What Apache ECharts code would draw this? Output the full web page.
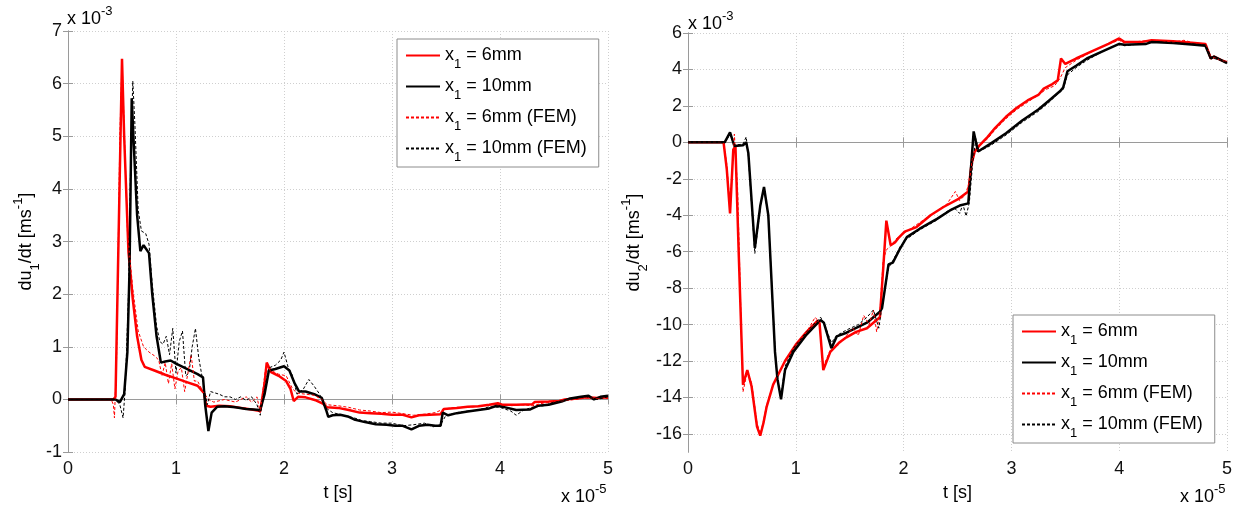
<!DOCTYPE html>
<html>
<head>
<meta charset="utf-8">
<script src="https://cdn.jsdelivr.net/npm/echarts@6/dist/echarts.min.js"></script>
<style>html,body{margin:0;padding:0;background:#fff;}#c{width:1240px;height:508px;}</style>
</head>
<body>
<div id="c"></div>
<script>
// ---- data (t in units of 1e-5 s, values in units of 1e-3 m/s) ----
const X_TICKS = [0, 1, 2, 3, 4, 5];
const LEFT_Y_TICKS = [-1, 0, 1, 2, 3, 4, 5, 6, 7];
const RIGHT_Y_TICKS = [-16, -14, -12, -10, -8, -6, -4, -2, 0, 2, 4, 6];
const NAMES = ['x1 = 6mm', 'x1 = 10mm', 'x1 = 6mm (FEM)', 'x1 = 10mm (FEM)'];

// Left panel: du1/dt
const L_6MM = [[0,0],[0.42,0],[0.44,0.05],[0.5,6.47],[0.52,5.0],[0.56,2.8],[0.6,1.9],[0.64,1.2],[0.68,0.75],[0.71,0.62],[0.8,0.55],[0.9,0.47],[1.0,0.4],[1.1,0.33],[1.2,0.26],[1.26,0.12],[1.28,-0.12],[1.32,-0.14],[1.4,-0.12],[1.5,-0.13],[1.6,-0.16],[1.7,-0.19],[1.78,-0.22],[1.82,0.3],[1.84,0.7],[1.88,0.52],[1.95,0.45],[2.02,0.35],[2.06,0.2],[2.09,-0.03],[2.13,0.05],[2.2,0.04],[2.3,-0.02],[2.36,-0.08],[2.4,-0.15],[2.5,-0.16],[2.6,-0.2],[2.7,-0.25],[2.8,-0.26],[2.9,-0.27],[3.0,-0.29],[3.1,-0.29],[3.18,-0.34],[3.25,-0.3],[3.35,-0.29],[3.45,-0.28],[3.48,-0.18],[3.6,-0.16],[3.7,-0.14],[3.8,-0.13],[3.9,-0.1],[3.98,-0.07],[4.02,-0.1],[4.15,-0.1],[4.3,-0.09],[4.32,-0.05],[4.45,-0.04],[4.55,-0.03],[4.6,0],[4.7,0.02],[4.8,0.04],[4.9,0.03],[5.0,0.04]];
const L_10MM = [[0,0],[0.44,0],[0.48,-0.05],[0.52,0.1],[0.55,0.9],[0.57,2.5],[0.59,5.72],[0.61,4.8],[0.64,3.5],[0.67,2.82],[0.7,2.93],[0.75,2.78],[0.78,2.0],[0.82,1.2],[0.86,0.7],[0.9,0.72],[0.95,0.74],[1.0,0.68],[1.1,0.58],[1.2,0.48],[1.25,0.42],[1.27,-0.1],[1.3,-0.6],[1.33,-0.25],[1.38,-0.14],[1.45,-0.13],[1.55,-0.15],[1.65,-0.18],[1.78,-0.2],[1.82,0.1],[1.86,0.55],[1.92,0.58],[2.0,0.63],[2.05,0.55],[2.1,0.3],[2.14,0.15],[2.2,0.15],[2.28,0.1],[2.35,0.03],[2.39,-0.2],[2.41,-0.33],[2.45,-0.3],[2.52,-0.29],[2.6,-0.33],[2.65,-0.38],[2.75,-0.43],[2.85,-0.47],[2.95,-0.48],[3.03,-0.5],[3.1,-0.5],[3.18,-0.57],[3.25,-0.5],[3.33,-0.48],[3.4,-0.5],[3.45,-0.5],[3.47,-0.25],[3.52,-0.3],[3.6,-0.26],[3.7,-0.23],[3.8,-0.2],[3.9,-0.17],[3.97,-0.12],[4.05,-0.15],[4.15,-0.2],[4.28,-0.19],[4.35,-0.12],[4.45,-0.1],[4.57,-0.04],[4.65,0.02],[4.75,0.05],[4.82,0.07],[4.87,0],[4.93,0.05],[5.0,0.07]];
const L_6MM_FEM = [[0,0],[0.4,0],[0.42,-0.1],[0.43,-0.35],[0.45,0.8],[0.48,5.0],[0.5,6.45],[0.52,5.2],[0.55,3.2],[0.6,2.1],[0.65,1.3],[0.7,1.0],[0.75,0.9],[0.8,0.83],[0.84,0.75],[0.87,0.45],[0.9,0.7],[0.93,0.3],[0.96,0.68],[0.99,0.2],[1.02,0.55],[1.05,0.6],[1.08,0.15],[1.11,0.5],[1.14,0.85],[1.17,0.35],[1.2,0.35],[1.25,0.15],[1.3,0.0],[1.35,-0.05],[1.45,0.0],[1.55,-0.05],[1.65,0.05],[1.7,-0.05],[1.75,0.05],[1.78,-0.25],[1.83,0.6],[1.88,0.55],[1.95,0.48],[2.02,0.45],[2.08,0.2],[2.12,0.12],[2.2,0.1],[2.28,0.08],[2.35,0.0],[2.4,-0.1],[2.5,-0.12],[2.6,-0.15],[2.7,-0.2],[2.8,-0.22],[2.9,-0.25],[3.0,-0.24],[3.1,-0.27],[3.2,-0.3],[3.3,-0.28],[3.4,-0.25],[3.48,-0.18],[3.6,-0.15],[3.7,-0.15],[3.8,-0.13],[3.9,-0.1],[4.0,-0.1],[4.1,-0.12],[4.2,-0.1],[4.3,-0.12],[4.4,-0.07],[4.5,-0.05],[4.6,-0.02],[4.7,0.0],[4.8,0.03],[4.9,0.02],[5.0,0.02]];
const L_10MM_FEM = [[0,0],[0.44,0],[0.48,-0.1],[0.51,-0.35],[0.53,0.2],[0.56,2.0],[0.58,4.5],[0.6,6.05],[0.62,5.2],[0.65,3.6],[0.68,3.2],[0.72,3.15],[0.75,2.95],[0.78,2.2],[0.82,1.4],[0.85,1.1],[0.88,1.05],[0.91,1.2],[0.94,0.85],[0.97,1.35],[1.0,0.5],[1.03,1.1],[1.06,1.3],[1.09,0.45],[1.12,0.5],[1.15,1.0],[1.18,1.35],[1.21,0.8],[1.24,0.45],[1.27,0.1],[1.29,-0.1],[1.32,0.15],[1.4,0.1],[1.45,0.05],[1.5,0.05],[1.55,0.0],[1.6,0.05],[1.65,-0.02],[1.7,0.05],[1.75,-0.1],[1.78,-0.3],[1.82,0.2],[1.86,0.6],[1.92,0.65],[1.97,0.75],[2.0,0.9],[2.04,0.6],[2.08,0.45],[2.12,0.1],[2.18,0.2],[2.23,0.38],[2.28,0.25],[2.33,0.1],[2.38,-0.15],[2.45,-0.25],[2.55,-0.3],[2.65,-0.35],[2.72,-0.4],[2.8,-0.42],[2.9,-0.45],[3.0,-0.45],[3.1,-0.5],[3.2,-0.48],[3.3,-0.45],[3.38,-0.52],[3.45,-0.48],[3.5,-0.3],[3.6,-0.25],[3.7,-0.22],[3.8,-0.2],[3.9,-0.14],[4.0,-0.15],[4.1,-0.22],[4.15,-0.3],[4.22,-0.2],[4.3,-0.15],[4.4,-0.12],[4.5,-0.05],[4.6,-0.02],[4.7,0.02],[4.8,0.05],[4.9,0.0],[5.0,0.05]];

// Right panel: du2/dt
const R_6MM = [[0,0],[0.33,0],[0.36,-1.5],[0.39,-3.9],[0.42,-0.4],[0.44,-0.2],[0.47,-6.0],[0.51,-13.3],[0.55,-12.5],[0.59,-13.4],[0.64,-15.6],[0.67,-16.1],[0.7,-15.4],[0.73,-14.5],[0.79,-13.3],[0.9,-12.0],[1.0,-11.1],[1.1,-10.4],[1.2,-9.8],[1.22,-9.9],[1.255,-12.5],[1.32,-11.5],[1.4,-11.0],[1.47,-10.7],[1.56,-10.4],[1.66,-10.2],[1.78,-9.6],[1.81,-7.0],[1.84,-4.3],[1.88,-5.65],[1.92,-5.5],[1.96,-5.2],[2.01,-4.9],[2.12,-4.65],[2.25,-4.0],[2.37,-3.55],[2.51,-3.1],[2.6,-2.7],[2.63,-1.2],[2.66,-0.5],[2.7,-0.2],[2.78,0.3],[2.85,0.8],[2.95,1.4],[3.05,1.9],[3.15,2.3],[3.25,2.6],[3.3,2.95],[3.38,3.2],[3.43,3.4],[3.46,4.6],[3.5,4.3],[3.6,4.6],[3.75,5.0],[3.9,5.4],[4.0,5.7],[4.05,5.5],[4.2,5.5],[4.3,5.6],[4.5,5.55],[4.7,5.45],[4.8,5.4],[4.85,4.6],[4.88,4.7],[4.95,4.5],[5.0,4.4]];
const R_10MM = [[0,0],[0.34,0],[0.39,0.55],[0.43,-0.2],[0.51,-0.16],[0.54,0.0],[0.56,-0.6],[0.62,-5.8],[0.67,-3.5],[0.705,-2.45],[0.745,-4.0],[0.807,-11.5],[0.83,-13.0],[0.863,-14.1],[0.9,-12.5],[0.977,-11.5],[1.1,-10.55],[1.23,-9.75],[1.26,-9.9],[1.33,-11.3],[1.38,-10.65],[1.47,-10.45],[1.66,-9.9],[1.78,-9.3],[1.8,-9.1],[1.86,-6.7],[1.9,-6.6],[1.97,-5.8],[2.03,-5.2],[2.15,-4.74],[2.31,-4.2],[2.43,-3.74],[2.52,-3.47],[2.6,-3.35],[2.63,-1.0],[2.65,0.6],[2.69,-0.5],[2.8,-0.1],[2.95,0.5],[3.1,1.2],[3.25,1.8],[3.35,2.3],[3.45,2.8],[3.48,3.0],[3.52,3.9],[3.6,4.2],[3.7,4.6],[3.85,5.0],[4.0,5.4],[4.05,5.35],[4.25,5.4],[4.3,5.5],[4.5,5.45],[4.7,5.35],[4.8,5.3],[4.85,4.6],[4.88,4.7],[4.95,4.5],[5.0,4.35]];
const R_6MM_FEM = [[0,0],[0.33,0],[0.36,-1.2],[0.39,-3.5],[0.43,0.45],[0.46,-2.5],[0.51,-13.7],[0.55,-12.6],[0.59,-13.2],[0.64,-15.4],[0.67,-16.0],[0.7,-15.3],[0.73,-14.4],[0.79,-13.3],[0.9,-12.0],[1.0,-11.1],[1.1,-10.4],[1.18,-9.6],[1.22,-9.9],[1.255,-12.3],[1.32,-11.4],[1.4,-11.1],[1.47,-10.6],[1.53,-10.2],[1.58,-10.6],[1.63,-9.5],[1.68,-10.0],[1.72,-9.2],[1.75,-10.4],[1.78,-9.4],[1.81,-6.5],[1.84,-5.9],[1.88,-5.7],[1.93,-5.3],[2.0,-5.0],[2.1,-4.6],[2.2,-4.2],[2.3,-3.8],[2.4,-3.4],[2.48,-2.7],[2.52,-3.2],[2.57,-2.9],[2.61,-2.2],[2.64,-0.8],[2.7,-0.2],[2.78,0.2],[2.85,0.7],[2.95,1.3],[3.05,1.8],[3.15,2.2],[3.25,2.6],[3.32,2.9],[3.4,3.1],[3.45,3.5],[3.5,4.1],[3.6,4.5],[3.75,5.0],[3.9,5.4],[4.0,5.6],[4.05,5.45],[4.2,5.55],[4.35,5.6],[4.5,5.5],[4.6,5.6],[4.7,5.45],[4.8,5.4],[4.85,4.7],[4.9,4.6],[5.0,4.4]];
const R_10MM_FEM = [[0,0],[0.34,0],[0.39,0.4],[0.43,-0.15],[0.51,-0.1],[0.54,0.3],[0.56,-0.8],[0.62,-6.1],[0.67,-3.6],[0.705,-2.5],[0.745,-4.1],[0.807,-11.3],[0.83,-13.1],[0.863,-13.9],[0.9,-12.3],[0.977,-11.3],[1.1,-10.4],[1.23,-9.6],[1.26,-9.9],[1.33,-11.0],[1.38,-10.6],[1.47,-10.3],[1.58,-10.0],[1.66,-9.6],[1.72,-9.2],[1.77,-10.2],[1.8,-9.0],[1.86,-6.9],[1.9,-6.5],[1.97,-5.7],[2.03,-5.3],[2.15,-4.8],[2.3,-4.3],[2.4,-3.8],[2.47,-3.6],[2.52,-3.9],[2.55,-3.4],[2.58,-4.05],[2.61,-3.3],[2.64,-1.2],[2.67,0.2],[2.7,-0.5],[2.8,-0.2],[2.95,0.4],[3.1,1.1],[3.25,1.7],[3.35,2.2],[3.42,2.6],[3.48,2.9],[3.52,3.7],[3.6,4.1],[3.7,4.5],[3.85,5.0],[4.0,5.4],[4.05,5.3],[4.25,5.45],[4.3,5.55],[4.5,5.45],[4.7,5.4],[4.8,5.35],[4.85,4.7],[4.88,4.6],[4.95,4.5],[5.0,4.35]];

const LEFT_SERIES = [L_6MM, L_10MM, L_6MM_FEM, L_10MM_FEM];
const RIGHT_SERIES = [R_6MM, R_10MM, R_6MM_FEM, R_10MM_FEM];

// ---- styles ----
const FONT = 'Liberation Sans, Arial, Helvetica, sans-serif';
const AXIS_GRAY = '#9a9a9a';
const GRID_GRAY = '#cfcfcf';
const STYLES = [
  {color: '#ff0000', width: 2.5, type: 'solid'},
  {color: '#000000', width: 2.5, type: 'solid'},
  {color: '#ff0000', width: 1, type: [3, 2]},
  {color: '#000000', width: 1, type: [3, 2]}
];

const chart = echarts.init(document.getElementById('c'), null, {renderer: 'canvas'});

function xAxisPair(gridIndex, nameText) {
  return [
    {
      type: 'value', gridIndex: gridIndex, position: 'bottom', min: 0, max: 5, interval: 1,
      name: nameText, nameLocation: 'middle', nameGap: 26,
      nameTextStyle: {fontFamily: FONT, fontSize: 18, color: '#000', lineHeight: 20},
      axisLine: {show: true, lineStyle: {color: AXIS_GRAY, width: 1}},
      axisTick: {show: true, inside: true, length: 5, lineStyle: {color: AXIS_GRAY}},
      axisLabel: {show: true, margin: 8, fontFamily: FONT, fontSize: 18, color: '#111',
                  formatter: v => X_TICKS.indexOf(v) >= 0 ? String(v) : ''},
      splitLine: {show: true, lineStyle: {color: GRID_GRAY, type: [1, 2], width: 1}}
    },
    {
      type: 'value', gridIndex: gridIndex, position: 'top', min: 0, max: 5, interval: 1,
      axisLine: {show: true, lineStyle: {color: AXIS_GRAY, width: 1}},
      axisTick: {show: true, inside: true, length: 5, lineStyle: {color: AXIS_GRAY}},
      axisLabel: {show: false}, splitLine: {show: false}
    }
  ];
}

const yNameRich = {
  a: {fontFamily: FONT, fontSize: 18, lineHeight: 20, color: '#000'},
  s: {fontFamily: FONT, fontSize: 13, lineHeight: 20, color: '#000', padding: [18, 0, 0, 0]},
  p: {fontFamily: FONT, fontSize: 13, lineHeight: 20, color: '#000', padding: [0, 0, 16, 0]}
};

function yAxisPair(gridIndex, min, max, ticks, nameText, nameGap) {
  const common = {type: 'value', gridIndex: gridIndex, min: min, max: max};
  return [
    Object.assign({}, common, {
      position: 'left',
      name: nameText, nameLocation: 'middle', nameGap: nameGap, nameRotate: 90,
      nameTextStyle: {rich: yNameRich},
      axisLine: {show: true, lineStyle: {color: AXIS_GRAY, width: 1}},
      axisTick: {show: true, inside: true, length: 5, lineStyle: {color: AXIS_GRAY}, customValues: ticks},
      axisLabel: {show: true, margin: 6, fontFamily: FONT, fontSize: 18, color: '#111', customValues: ticks},
      splitLine: {show: true, lineStyle: {color: GRID_GRAY, type: [1, 2], width: 1}}
    }),
    Object.assign({}, common, {
      position: 'right',
      axisLine: {show: true, lineStyle: {color: AXIS_GRAY, width: 1}},
      axisTick: {show: true, inside: true, length: 5, lineStyle: {color: AXIS_GRAY}, customValues: ticks},
      axisLabel: {show: false}, splitLine: {show: false}
    })
  ];
}

function makeSeries(list, xIdx, yIdx) {
  return list.map((d, i) => ({
    type: 'line', name: NAMES[i], xAxisIndex: xIdx, yAxisIndex: yIdx,
    data: d, symbol: 'none', showSymbol: false, smooth: false, animation: false,
    lineStyle: {color: STYLES[i].color, width: STYLES[i].width, type: STYLES[i].type},
    itemStyle: {color: STYLES[i].color},
    z: 2 + i
  }));
}

const legendRich = {
  a: {fontFamily: FONT, fontSize: 18, lineHeight: 20, color: '#000'},
  s: {fontFamily: FONT, fontSize: 13, lineHeight: 20, color: '#000', padding: [18, 0, 0, 0]}
};
function legendFmt(name) {
  return '{a|x}{s|1}{a|' + name.slice(2) + '}';
}
function makeLegend(left, top) {
  return {
    data: NAMES, orient: 'vertical', left: left, top: top,
    itemWidth: 34, itemHeight: 14, itemGap: 0,
    padding: [1, 12, 3, 8],
    borderColor: '#8c8c8c', borderWidth: 1, backgroundColor: '#ffffff',
    formatter: legendFmt,
    itemStyle: {opacity: 0},
    textStyle: {fontFamily: FONT, fontSize: 18, color: '#000', rich: legendRich},
    selectedMode: false
  };
}

const expRich = {
  a: {fontFamily: FONT, fontSize: 18, lineHeight: 20, fill: '#000', color: '#000'},
  p: {fontFamily: FONT, fontSize: 13, lineHeight: 20, fill: '#000', color: '#000', padding: [0, 0, 16, 0]}
};
function expText(x, y, e) {
  return {
    type: 'text', x: x, y: y, silent: true,
    style: {text: '{a|x 10}{p|' + e + '}', rich: expRich, verticalAlign: 'middle', align: 'left', fill: '#000'}
  };
}

const option = {
  backgroundColor: '#ffffff',
  animation: false,
  grid: [
    {left: 68, right: 632, top: 31, bottom: 54, containLabel: false},
    {left: 688, right: 13, top: 33, bottom: 53, containLabel: false}
  ],
  xAxis: [].concat(xAxisPair(0, 't [s]'), xAxisPair(1, 't [s]')),
  yAxis: [].concat(
    yAxisPair(0, -1, 7, LEFT_Y_TICKS, '{a|du}{s|1}{a|/dt [ms}{p|-1}{a|]}', 32),
    yAxisPair(1, -17, 6, RIGHT_Y_TICKS, '{a|du}{s|2}{a|/dt [ms}{p|-1}{a|]}', 44)
  ),
  legend: [makeLegend(397, 39), makeLegend(1013, 315)],
  series: [].concat(makeSeries(LEFT_SERIES, 0, 0), makeSeries(RIGHT_SERIES, 2, 2)),
  graphic: [
    expText(67, 19, '-3'),
    expText(688, 24, '-3'),
    expText(561, 497, '-5'),
    expText(1180, 497, '-5')
  ]
};
chart.setOption(option);
</script>
</body>
</html>
